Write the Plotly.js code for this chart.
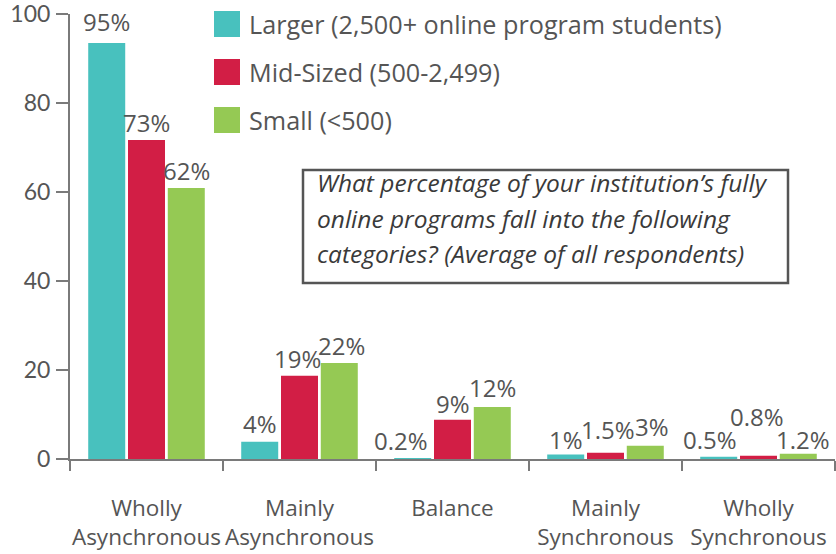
<!DOCTYPE html>
<html>
<head>
<meta charset="utf-8">
<script src="https://cdn.plot.ly/plotly-3.0.1.min.js"></script>
<style>html,body{margin:0;padding:0;background:#fff;}#chart{width:836px;height:554px;}</style>
</head>
<body>
<div id="chart"></div>
<script>
// ---- data ----
const categories = ['Wholly<br>Asynchronous', 'Mainly<br>Asynchronous', 'Balance', 'Mainly<br>Synchronous', 'Wholly<br>Synchronous'];
const seriesNames = ['Larger (2,500+ online program students)', 'Mid-Sized (500-2,499)', 'Small (<500)'];
const largerValues = [93.5, 3.9, 0.2, 1.0, 0.5];
const midSizedValues = [71.7, 18.7, 8.8, 1.4, 0.75];
const smallValues = [60.9, 21.6, 11.7, 3.0, 1.2];
const largerLabels = ['95%', '4%', '0.2%', '1%', '0.5%'];
const midSizedLabels = ['73%', '19%', '9%', '1.5%', '0.8%'];
const smallLabels = ['62%', '22%', '12%', '3%', '1.2%'];
const yTickValues = [0, 20, 40, 60, 80, 100];
const questionLines = ['What percentage of your institution\u2019s fully', 'online programs fall into the following', 'categories? (Average of all respondents)'];

// ---- styles ----
const colors = ['#48C1BE', '#D21E45', '#95C954'];
const txtColor = '#555555';
const axisColor = '#7a7a7a';
const W = 836, H = 554;
const M = {l: 70, r: 1, t: 14, b: 95};
const plotW = W - M.l - M.r, plotH = H - M.t - M.b;
const px = x => (x - M.l) / plotW;
const py = y => (H - M.b - y) / plotH;
const bargap = 0.22, bargroupgap = 0.07;
// manual label nudges [series][category] in pixels (as in the original's hand-placed labels)
const nudgeY = [[4, 1, 0, -2, 0], [0, 0, -1, 6, 22], [0, 0, 2, 2, -3]];
const nudgeX = [[0, 0, -12, 0, -9], [0, -2, 0, 2, -2], [0, 2, 0, 7, 5]];

const allValues = [largerValues, midSizedValues, smallValues];
const allLabels = [largerLabels, midSizedLabels, smallLabels];

const traces = allValues.map((vals, i) => ({
  type: 'bar', x: categories, y: vals, name: seriesNames[i],
  marker: {color: colors[i]}, showlegend: false, hoverinfo: 'none'
}));

const annotations = [];
const slot = (1 - bargap) / 3;
allLabels.forEach((labs, i) => {
  labs.forEach((lab, j) => {
    annotations.push({
      xref: 'x2', yref: 'y', x: j + (i - 1) * slot, y: allValues[i][j],
      text: lab, showarrow: false, xanchor: 'center', yanchor: 'bottom',
      xshift: nudgeX[i][j], yshift: nudgeY[i][j] - 1,
      font: {family: 'Open Sans, sans-serif', size: 24, color: txtColor}
    });
  });
});

const shapes = [];
// legend
const legendRows = [24, 72, 120];
seriesNames.forEach((nm, i) => {
  shapes.push({type: 'rect', xref: 'paper', yref: 'paper',
    x0: px(214), x1: px(240), y0: py(legendRows[i] + 13), y1: py(legendRows[i] - 13),
    fillcolor: colors[i], line: {width: 0}});
  annotations.push({xref: 'paper', yref: 'paper', x: px(247), y: py(legendRows[i]),
    xanchor: 'left', yanchor: 'middle', showarrow: false,
    text: nm.replace(/</g, '&lt;'),
    font: {family: 'Open Sans, sans-serif', size: 25.2, color: txtColor}});
});
// question box
shapes.push({type: 'rect', xref: 'paper', yref: 'paper',
  x0: px(303), x1: px(788), y0: py(283), y1: py(170),
  line: {color: '#555555', width: 2.5}, fillcolor: 'rgba(0,0,0,0)'});
const qBaselines = [192, 227, 262];
questionLines.forEach((ln, k) => {
  annotations.push({xref: 'paper', yref: 'paper', x: px(315), y: py(qBaselines[k] - 9),
    xanchor: 'left', yanchor: 'middle', showarrow: false,
    text: '<i>' + ln + '</i>',
    font: {family: 'Open Sans, sans-serif', size: 24.5, color: '#3a3a3a'}});
});

const layout = {
  width: W, height: H, margin: M,
  paper_bgcolor: '#fff', plot_bgcolor: '#fff',
  barmode: 'group', bargap: bargap, bargroupgap: bargroupgap,
  showlegend: false,
  xaxis: {type: 'category', categoryarray: categories, tickson: 'boundaries',
    ticks: 'outside', ticklen: 10, tickcolor: axisColor, tickwidth: 1.5,
    showline: true, linecolor: axisColor, linewidth: 2, showgrid: false,
    tickangle: 0, ticklabelstandoff: 28,
    tickfont: {family: 'Open Sans, sans-serif', size: 22.5, color: txtColor}},
  xaxis2: {overlaying: 'x', range: [-0.5, 4.5], visible: false},
  yaxis: {range: [0, 100.02], tickvals: yTickValues, ticks: 'outside', ticklen: 12,
    tickcolor: axisColor, tickwidth: 1.5, showline: true, linecolor: axisColor, linewidth: 2,
    showgrid: false, zeroline: false, ticklabelstandoff: 1, ticklabeloverflow: 'allow',
    tickfont: {family: 'Lato, sans-serif', size: 23, color: txtColor}},
  annotations: annotations, shapes: shapes
};

Plotly.newPlot('chart', traces, layout, {displayModeBar: false, staticPlot: true});
</script>
</body>
</html>
